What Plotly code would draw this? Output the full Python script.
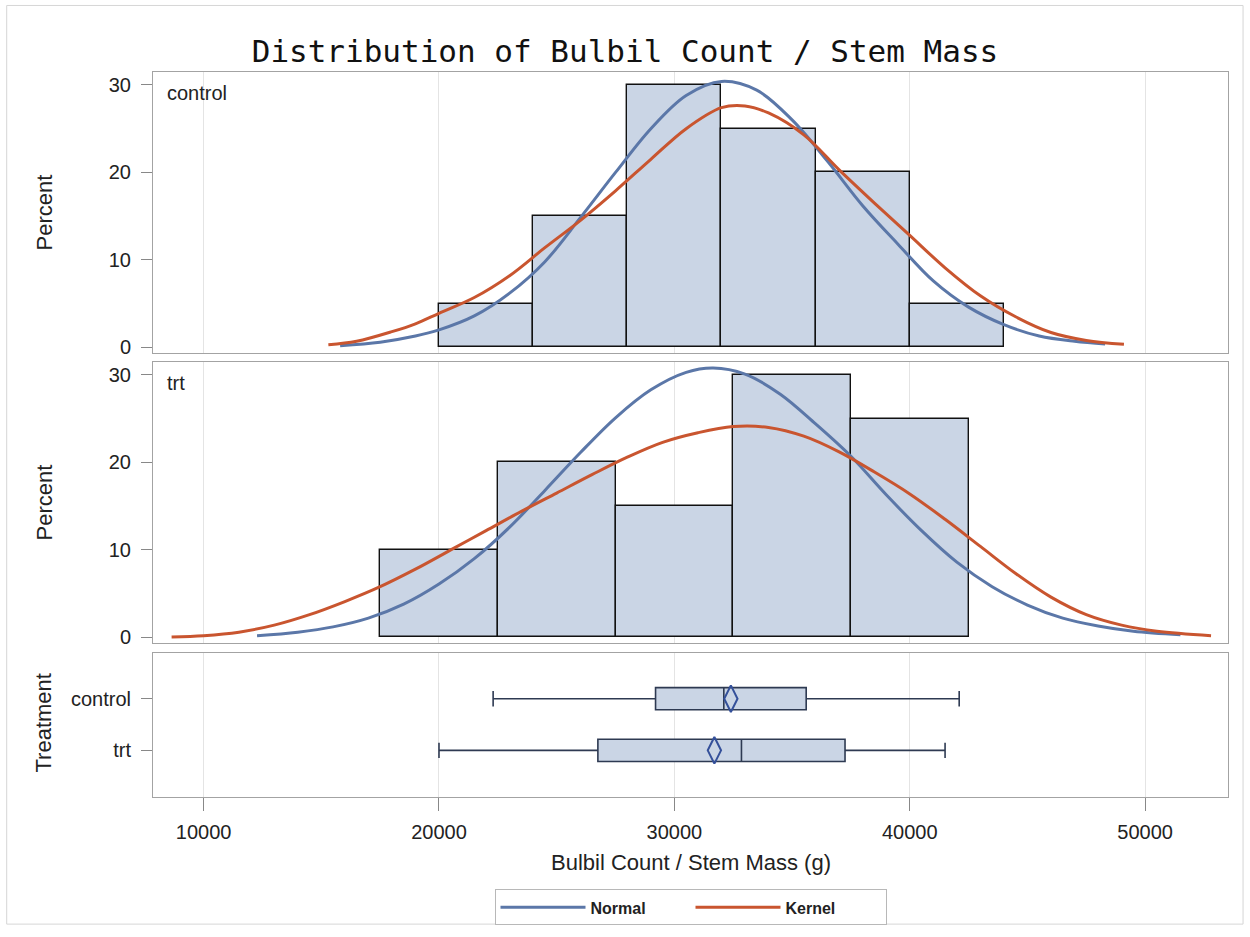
import plotly.graph_objects as go

# ---------------- data ----------------
# histogram: control (bin width 4000)
ctrl_bin_mid = [22000, 26000, 30000, 34000, 38000, 42000]
ctrl_bin_width = [4000, 4000, 4000, 4000, 4000, 4000]
ctrl_pct = [5, 15, 30, 25, 20, 5]

# histogram: trt (bin width 5000)
trt_bin_mid = [20000, 25000, 30000, 35000, 40000]
trt_bin_width = [5000, 5000, 5000, 5000, 5000]
trt_pct = [10, 20, 15, 30, 25]

# fitted curves (percent)
ctrl_normal_x = [15800, 17500, 19000, 20000, 21500, 23000, 24500, 26000, 27500, 29000, 30500,
                 32000, 33500, 35000, 36500, 38000, 39500, 41000, 42500, 44000, 45500, 47000,
                 48300]
ctrl_normal_y = [0.2, 0.6, 1.3, 2.0, 3.6, 6.2, 9.8, 14.8, 20.0, 25.0, 28.8,
                 30.4, 29.4, 26.0, 21.3, 16.2, 11.8, 7.6, 4.6, 2.6, 1.3, 0.7,
                 0.4]
ctrl_kernel_x = [15300, 16500, 18000, 19000, 20000, 21500, 23000, 24500, 26000, 27500, 29000,
                 30500, 32000, 33000, 34000, 35500, 37000, 38500, 40000, 41500, 43000, 44500,
                 46000, 47500, 49100]
ctrl_kernel_y = [0.3, 0.7, 1.8, 2.7, 3.9, 5.7, 8.2, 11.4, 14.5, 17.9, 21.5,
                 25.0, 27.4, 27.6, 26.8, 24.3, 20.3, 16.5, 12.8, 9.1, 5.9, 3.5,
                 1.7, 0.8, 0.35]

trt_normal_x = [12270, 14000, 15500, 17000, 18500, 20000, 21500, 23000, 24500, 26000, 27500,
                29000, 30500, 31650, 33000, 34500, 36000, 37500, 39000, 40500, 42000, 43500,
                45000, 46500, 48000, 49500, 51500]
trt_normal_y = [0.2, 0.6, 1.2, 2.2, 3.8, 6.1, 9.0, 12.6, 16.8, 21.1, 25.1,
                28.3, 30.3, 30.8, 30.1, 27.8, 24.4, 20.7, 16.3, 12.2, 8.6, 5.8,
                3.7, 2.2, 1.3, 0.7, 0.3]
trt_kernel_x = [8640, 10000, 11500, 13000, 14500, 16000, 17500, 19000, 20500, 22000, 23500,
                25000, 26500, 28000, 29500, 31000, 32500, 34000, 35500, 37000, 38500, 40000,
                41500, 43000, 44500, 46000, 47500, 49000, 50500, 52800]
trt_kernel_y = [0.05, 0.2, 0.6, 1.4, 2.6, 4.1, 5.8, 7.8, 10.0, 12.2, 14.4,
                16.5, 18.6, 20.6, 22.3, 23.4, 24.1, 24.0, 23.0, 21.2, 18.9, 16.4,
                13.5, 10.4, 7.3, 4.6, 2.6, 1.4, 0.7, 0.2]

# box plot summary statistics
groups = ["control", "trt"]
group_pos = [1, 0]
box_low = [22300, 20000]
box_q1 = [29200, 26750]
box_median = [32100, 32850]
box_q3 = [35600, 37250]
box_high = [42100, 41500]
box_mean = [32400, 31700]

x_ticks = [10000, 20000, 30000, 40000, 50000]
x_tick_labels = ["10000", "20000", "30000", "40000", "50000"]
pct_ticks = [0, 10, 20, 30]

# ---------------- styles ----------------
FILL = "#cad5e5"
BLUE = "#5b77a8"
ORANGE = "#c9552f"
GRID = "#e4e4e4"
FRAME = "#a3a3a3"
TXT = "#222222"
FONT = "Liberation Sans"
BOXLINE = "#2e3a52"
MEANCOL = "#34509a"

fig = go.Figure()

# histograms
fig.add_trace(go.Bar(x=ctrl_bin_mid, y=ctrl_pct, width=ctrl_bin_width,
                     marker=dict(color=FILL, line=dict(color="#111111", width=1.4)),
                     xaxis="x2", yaxis="y2", showlegend=False, hoverinfo="skip"))
fig.add_trace(go.Bar(x=trt_bin_mid, y=trt_pct, width=trt_bin_width,
                     marker=dict(color=FILL, line=dict(color="#111111", width=1.4)),
                     xaxis="x3", yaxis="y3", showlegend=False, hoverinfo="skip"))

# curves
fig.add_trace(go.Scatter(x=ctrl_normal_x, y=ctrl_normal_y, mode="lines", name="Normal",
                         line=dict(color=BLUE, width=3, shape="spline", smoothing=1),
                         xaxis="x2", yaxis="y2", legendgroup="n"))
fig.add_trace(go.Scatter(x=ctrl_kernel_x, y=ctrl_kernel_y, mode="lines", name="Kernel",
                         line=dict(color=ORANGE, width=3, shape="spline", smoothing=1),
                         xaxis="x2", yaxis="y2", legendgroup="k"))
fig.add_trace(go.Scatter(x=trt_normal_x, y=trt_normal_y, mode="lines", name="Normal",
                         line=dict(color=BLUE, width=3, shape="spline", smoothing=1),
                         xaxis="x3", yaxis="y3", legendgroup="n", showlegend=False))
fig.add_trace(go.Scatter(x=trt_kernel_x, y=trt_kernel_y, mode="lines", name="Kernel",
                         line=dict(color=ORANGE, width=3, shape="spline", smoothing=1),
                         xaxis="x3", yaxis="y3", legendgroup="k", showlegend=False))

# box plots
for i in range(len(groups)):
    fig.add_trace(go.Box(
        y=[group_pos[i]], q1=[box_q1[i]], median=[box_median[i]], q3=[box_q3[i]],
        lowerfence=[box_low[i]], upperfence=[box_high[i]],
        orientation="h", width=0.43, fillcolor=FILL,
        line=dict(color=BOXLINE, width=1.6), whiskerwidth=0,
        xaxis="x", yaxis="y", showlegend=False, hoverinfo="skip"))
    fig.add_trace(go.Scatter(
        x=[box_low[i], box_high[i]], y=[group_pos[i], group_pos[i]], mode="markers",
        marker=dict(symbol="line-ns", size=11, color=BOXLINE,
                    line=dict(color=BOXLINE, width=1.6)),
        xaxis="x", yaxis="y", showlegend=False, hoverinfo="skip"))
    fig.add_trace(go.Scatter(
        x=[box_mean[i]], y=[group_pos[i]], mode="markers",
        marker=dict(symbol="diamond-tall-open", size=19, color=MEANCOL,
                    line=dict(color=MEANCOL, width=2)),
        xaxis="x", yaxis="y", showlegend=False, hoverinfo="skip"))

x_range = [7850, 53520]
pct_range = [-0.65, 31.48]
common_x = dict(range=x_range, showgrid=True, gridcolor=GRID, gridwidth=1,
                tickvals=x_ticks, ticktext=x_tick_labels,
                showline=True, mirror=True, linecolor=FRAME, linewidth=1, zeroline=False)
common_y = dict(showgrid=False, showline=True, mirror=True, linecolor=FRAME, linewidth=1,
                zeroline=False, ticks="outside", ticklen=11, tickcolor="#888888",
                ticklabelstandoff=6,
                tickfont=dict(family=FONT, size=20, color=TXT))

H = 730.0  # plot area height in px

fig.update_layout(
    width=1250, height=937,
    margin=dict(l=153, r=22, t=72, b=135),
    paper_bgcolor="white", plot_bgcolor="white",
    barmode="overlay", bargap=0,
    title=dict(text="Distribution of Bulbil Count / Stem Mass", x=0.5, xanchor="center",
               y=1 - 51 / 937, yanchor="middle", yref="container",
               font=dict(family="DejaVu Sans Mono", size=31, color="#111111")),
    xaxis=dict(**common_x, anchor="y", ticks="outside", ticklen=13, tickcolor="#888888",
               ticklabelstandoff=4,
               tickfont=dict(family=FONT, size=20, color=TXT)),
    xaxis2=dict(**common_x, anchor="y2", matches="x", showticklabels=False, ticks=""),
    xaxis3=dict(**common_x, anchor="y3", matches="x", showticklabels=False, ticks=""),
    yaxis=dict(**common_y, domain=[0, 0.1986], range=[-0.904, 1.885],
               tickvals=group_pos, ticktext=groups),
    yaxis2=dict(**common_y, domain=[0.6123, 1.0], range=pct_range, tickvals=pct_ticks),
    yaxis3=dict(**common_y, domain=[0.2123, 0.6], range=pct_range, tickvals=pct_ticks),
    legend=dict(orientation="h", x=0.5, xanchor="center", y=-93 / H, yanchor="top",
                bordercolor="#b8b8b8", borderwidth=1, bgcolor="white", itemwidth=85,
                entrywidth=95, entrywidthmode="pixels",
                font=dict(family=FONT, size=16, color=TXT, weight="bold"),
                traceorder="normal"),
    font=dict(family=FONT, color=TXT),
    shapes=[dict(type="rect", xref="paper", yref="paper", x0=-0.1361, x1=1.014,
                 y0=-128 / H, y1=1 + 67 / H, line=dict(color="#d6d6d6", width=1),
                 fillcolor="rgba(0,0,0,0)", layer="below")],
    annotations=[
        dict(text="control", xref="x2 domain", yref="y2 domain", x=0.011, y=0.926,
             xanchor="left", yanchor="middle", showarrow=False,
             font=dict(family=FONT, size=20, color=TXT)),
        dict(text="trt", xref="x3 domain", yref="y3 domain", x=0.011, y=0.926,
             xanchor="left", yanchor="middle", showarrow=False,
             font=dict(family=FONT, size=20, color=TXT)),
        dict(text="Percent", xref="paper", yref="paper", x=-0.1005, y=0.8062, textangle=-90,
             xanchor="center", yanchor="middle", showarrow=False,
             font=dict(family=FONT, size=22, color=TXT)),
        dict(text="Percent", xref="paper", yref="paper", x=-0.1005, y=0.4062, textangle=-90,
             xanchor="center", yanchor="middle", showarrow=False,
             font=dict(family=FONT, size=22, color=TXT)),
        dict(text="Treatment", xref="paper", yref="paper", x=-0.1023, y=0.1014, textangle=-90,
             xanchor="center", yanchor="middle", showarrow=False,
             font=dict(family=FONT, size=22, color=TXT)),
        dict(text="Bulbil Count / Stem Mass (g)", xref="paper", yref="paper", x=0.5,
             y=-66 / H, xanchor="center", yanchor="middle", showarrow=False,
             font=dict(family=FONT, size=22, color=TXT)),
    ],
)

fig.write_html("out.html")
